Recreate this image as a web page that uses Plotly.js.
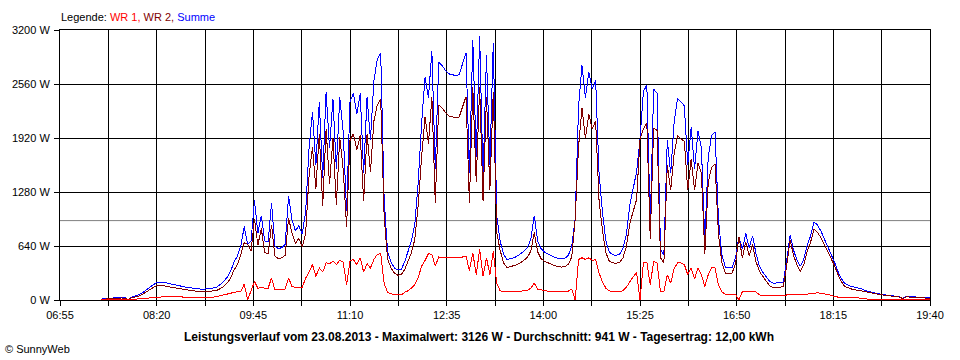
<!DOCTYPE html>
<html>
<head>
<meta charset="utf-8">
<script src="https://cdn.plot.ly/plotly-3.0.1.min.js"></script>
<style>
html,body{margin:0;padding:0;background:#fff;}
#chart{width:960px;height:360px;}
#chart .scatterlayer path.js-line{shape-rendering:crispEdges;}
</style>
</head>
<body>
<div id="chart"></div>
<script>
// ---- Data ----
const times = [
 '07:31','07:34','07:37','07:40','07:43','07:46','07:49','07:52','07:55','07:58',
 '08:01','08:04','08:07','08:10','08:13','08:16','08:19','08:22','08:25','08:28','08:31','08:34','08:37','08:40','08:43','08:46','08:49','08:52','08:55','08:58',
 '09:01','09:04','09:07','09:10','09:13','09:16','09:19','09:22','09:25','09:28','09:31','09:34','09:37','09:40','09:43','09:46','09:49','09:52','09:55','09:58',
 '10:01','10:04','10:07','10:10','10:13','10:16','10:19','10:22','10:25','10:28','10:31','10:34','10:37','10:40','10:43','10:46','10:49','10:52','10:55','10:58',
 '11:01','11:04','11:07','11:10','11:13','11:16','11:19','11:22','11:25','11:28','11:31','11:34','11:37','11:40','11:43','11:46','11:49','11:52','11:55','11:58',
 '12:01','12:04','12:07','12:10','12:13','12:16','12:19','12:22','12:25','12:28','12:31','12:34','12:37','12:40','12:43','12:46','12:49','12:52','12:55','12:58',
 '13:01','13:04','13:07','13:10','13:13','13:16','13:19','13:22','13:25','13:28','13:31','13:34','13:37','13:40','13:43','13:46','13:49','13:52','13:55','13:58',
 '14:01','14:04','14:07','14:10','14:13','14:16','14:19','14:22','14:25','14:28','14:31','14:34','14:37','14:40','14:43','14:46','14:49','14:52','14:55','14:58',
 '15:01','15:04','15:07','15:10','15:13','15:16','15:19','15:22','15:25','15:28','15:31','15:34','15:37','15:40','15:43','15:46','15:49','15:52','15:55','15:58',
 '16:01','16:04','16:07','16:10','16:13','16:16','16:19','16:22','16:25','16:28','16:31','16:34','16:37','16:40','16:43','16:46','16:49','16:52','16:55','16:58',
 '17:01','17:04','17:07','17:10','17:13','17:16','17:19','17:22','17:25','17:28','17:31','17:34','17:37','17:40','17:43','17:46','17:49','17:52','17:55','17:58',
 '18:01','18:04','18:07','18:10','18:13','18:16','18:19','18:22','18:25','18:28','18:31','18:34','18:37','18:40','18:43','18:46','18:49','18:52','18:55','18:58',
 '19:01','19:04','19:07','19:10','19:13','19:16','19:19','19:22','19:25','19:28','19:31','19:34','19:37','19:40'
];

// Summe (W)
const summe = [
 10,15,20,25,25,30,30,28,5,35,
 45,60,80,110,140,175,200,212,213,205,
 195,188,180,170,160,150,143,138,133,130,
 128,130,135,143,155,185,220,270,340,450,
 520,640,870,660,700,1180,790,1000,700,690,
 1150,640,610,620,660,1230,950,820,880,780,
 1050,1800,2230,1600,2350,1450,2470,1800,2380,1550,
 2400,2000,1050,2350,2450,2200,2450,1500,2400,1900,
 2600,2850,2930,1200,580,450,380,355,360,450,
 580,700,900,1400,2100,2640,2400,2950,1550,2820,
 2780,2720,2680,2670,2660,2670,2800,2930,1500,3080,
 1700,3126,1450,2900,1600,3050,1000,700,540,480,
 490,500,520,545,580,620,720,1000,700,610,
 570,545,520,505,495,488,495,530,640,960,
 2300,2780,2400,2700,2500,2600,1500,1040,700,570,
 535,530,540,610,780,1120,1320,1520,1900,2470,
 2550,900,2500,2450,600,535,1900,1500,2100,2390,
 2350,2300,1600,2050,1550,2000,1800,700,1700,1950,
 1990,950,540,390,380,385,500,750,600,790,
 620,760,550,400,330,280,220,200,200,200,
 205,470,770,590,475,400,480,650,760,925,
 890,820,730,630,555,450,340,255,195,175,
 160,150,140,130,110,100,90,80,70,65,
 60,55,50,45,40,20,42,40,38,35,
 30,28,25,25
];

// WR 1 (W)
const wr1 = [
 2,3,4,5,5,6,6,6,1,8,
 10,14,18,24,28,32,35,38,40,40,
 40,40,38,38,36,35,34,32,30,30,
 30,30,32,35,40,50,60,70,80,95,
 100,100,190,0,120,220,140,150,140,140,
 260,120,120,120,130,260,160,150,150,150,
 260,330,420,280,380,330,440,430,460,420,
 470,450,180,460,480,420,500,330,430,380,
 480,540,550,200,90,70,60,60,60,90,
 110,140,180,270,400,470,550,540,400,510,
 505,500,500,500,500,500,510,520,350,560,
 300,600,280,500,300,580,200,110,100,95,
 95,95,100,105,110,115,140,200,130,120,
 110,105,100,100,98,98,100,105,130,0,
 480,500,480,500,470,480,320,215,140,110,
 95,95,95,110,150,215,270,330,0,440,
 450,180,460,440,100,95,300,200,370,440,
 440,420,300,380,250,380,300,160,300,380,
 380,180,95,70,65,65,70,0,100,100,
 100,100,95,60,50,50,50,50,50,50,
 50,60,60,60,60,60,65,70,75,85,
 85,80,75,65,55,40,35,35,35,32,
 30,28,25,20,10,5,5,5,5,5,
 5,5,5,5,5,3,5,5,5,5,
 5,5,5,5
];

// WR 2 (W)
const wr2 = [
 8,12,16,20,20,24,24,22,4,27,
 35,46,62,86,112,143,165,174,173,165,
 155,148,142,132,124,115,109,106,103,100,
 98,100,103,108,115,135,160,200,260,355,
 420,540,680,660,580,960,650,850,560,550,
 890,520,490,500,530,970,790,670,730,630,
 790,1470,1810,1320,1970,1120,2030,1370,1920,1130,
 1930,1550,870,1890,1970,1780,1950,1170,1970,1520,
 2120,2310,2380,1000,490,380,320,295,300,360,
 470,560,720,1130,1700,2170,1850,2410,1150,2310,
 2275,2220,2180,2170,2160,2170,2290,2410,1150,2520,
 1400,2526,1170,2400,1300,2470,800,590,440,385,
 395,405,420,440,470,505,580,800,570,490,
 460,440,420,405,397,390,395,425,510,960,
 1820,2280,1920,2200,2030,2120,1180,825,560,460,
 440,435,445,500,630,905,1050,1190,1900,2030,
 2100,720,2040,2010,500,440,1600,1300,1730,1950,
 1910,1880,1300,1670,1300,1620,1500,540,1400,1570,
 1610,770,445,320,315,320,430,750,500,690,
 520,660,455,340,280,230,170,150,150,150,
 155,410,710,530,415,340,415,580,685,840,
 805,740,655,565,500,410,305,220,160,143,
 130,122,115,110,100,95,85,75,65,60,
 55,50,45,40,35,17,37,35,33,30,
 25,23,20,20
];

const xTickLabels = ['06:55','08:20','09:45','11:10','12:35','14:00','15:25','16:50','18:15','19:40'];
const yTickValues = [0, 640, 1280, 1920, 2560, 3200];
const averageValue = 941;

const legendLabel = 'Legende:';
const seriesNames = ['WR 1', 'WR 2', 'Summe'];
const footerText = 'Leistungsverlauf vom 23.08.2013 - Maximalwert: 3126 W - Durchschnitt: 941 W - Tagesertrag: 12,00 kWh';
const copyrightText = '\u00A9 SunnyWeb';

// ---- Build ----
function toMin(s){ const p = s.split(':'); return (+p[0])*60 + (+p[1]); }
const xs = times.map(toMin);

const tickvals = [], ticktext = [];
for (let k = 0; k < xTickLabels.length; k++) {
  const m = toMin(xTickLabels[k]);
  tickvals.push(m); ticktext.push(xTickLabels[k]);
  if (k < xTickLabels.length - 1) {
    const n = toMin(xTickLabels[k+1]);
    tickvals.push((m + n) / 2); ticktext.push('');
  }
}
const xMin = toMin(xTickLabels[0]);
const xMax = toMin(xTickLabels[xTickLabels.length-1]);

const FONT = 'Liberation Sans, Arial, sans-serif';
const C_WR1 = '#ff0000', C_WR2 = '#800000', C_SUM = '#0000ff';

const traces = [
  {x: xs, y: summe, name: seriesNames[2], type: 'scatter', mode: 'lines', line: {color: C_SUM, width: 1, shape: 'linear'}, hoverinfo: 'skip'},
  {x: xs, y: wr2, name: seriesNames[1], type: 'scatter', mode: 'lines', line: {color: C_WR2, width: 1, shape: 'linear'}, hoverinfo: 'skip'},
  {x: xs, y: wr1, name: seriesNames[0], type: 'scatter', mode: 'lines', line: {color: C_WR1, width: 1, shape: 'linear'}, hoverinfo: 'skip'}
];

const axisCommon = {
  showgrid: true, gridcolor: '#000000', gridwidth: 1,
  ticks: 'outside', ticklen: 5, tickcolor: '#000000', tickwidth: 1,
  showline: true, linecolor: '#000000', linewidth: 1, mirror: true,
  zeroline: false, fixedrange: true,
  tickfont: {family: FONT, size: 11, color: '#000000'}
};

const layout = {
  width: 960, height: 360,
  margin: {l: 60, r: 30, t: 30, b: 60, pad: 0},
  paper_bgcolor: '#ffffff', plot_bgcolor: '#ffffff',
  font: {family: FONT, size: 11, color: '#000000'},
  showlegend: false,
  hovermode: false,
  xaxis: Object.assign({}, axisCommon, {
    range: [xMin, xMax], tickmode: 'array', tickvals: tickvals, ticktext: ticktext
  }),
  yaxis: Object.assign({}, axisCommon, {
    range: [0, yTickValues[yTickValues.length-1]], tickmode: 'array',
    tickvals: yTickValues, ticktext: yTickValues.map(v => v + ' W'),
    ticklabelstandoff: 2
  }),
  shapes: [{
    type: 'line', xref: 'paper', x0: 0, x1: 1, yref: 'y', y0: averageValue, y1: averageValue,
    line: {color: '#808080', width: 1}, layer: 'below'
  }],
  annotations: [
    {
      text: legendLabel + ' <span style="color:' + C_WR1 + '">' + seriesNames[0] + ',</span> <span style="color:' + C_WR2 + '">' + seriesNames[1] + ',</span> <span style="color:' + C_SUM + '">' + seriesNames[2] + '</span>',
      xref: 'paper', x: 0, xanchor: 'left', xshift: -1,
      yref: 'paper', y: 1, yanchor: 'middle', yshift: 13,
      showarrow: false, font: {family: FONT, size: 11, color: '#000000'}
    },
    {
      text: '<b>' + footerText + '</b>',
      xref: 'paper', x: 0.5, xanchor: 'center', xshift: -16,
      yref: 'paper', y: 0, yanchor: 'middle', yshift: -37,
      showarrow: false, font: {family: FONT, size: 12, color: '#000000'}
    },
    {
      text: copyrightText,
      xref: 'paper', x: 0, xanchor: 'left', xshift: -57,
      yref: 'paper', y: 0, yanchor: 'middle', yshift: -49,
      showarrow: false, font: {family: FONT, size: 11, color: '#000000'}
    }
  ]
};

Plotly.newPlot('chart', traces, layout, {displayModeBar: false, staticPlot: true});
</script>
</body>
</html>
